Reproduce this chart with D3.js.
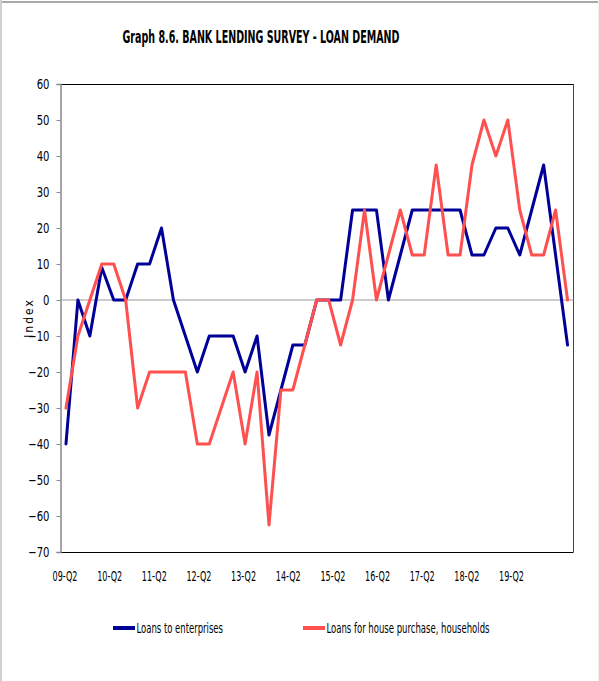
<!DOCTYPE html>
<html>
<head>
<meta charset="utf-8">
<script src="https://cdn.jsdelivr.net/npm/d3@7"></script>
<style>
  html, body { margin: 0; padding: 0; background: #fff; }
  svg { display: block; }
  text { font-family: "Liberation Sans Narrow", "DejaVu Sans Condensed", "Arial Narrow", sans-serif; fill: #000; }
</style>
</head>
<body>
<svg id="chart" width="599" height="681"></svg>
<script>
// Quarterly survey rounds
const quarters = [
  "09-Q2","09-Q3","09-Q4",
  "10-Q1","10-Q2","10-Q3","10-Q4",
  "11-Q1","11-Q2","11-Q3","11-Q4",
  "12-Q1","12-Q2","12-Q3","12-Q4",
  "13-Q1","13-Q2","13-Q3","13-Q4",
  "14-Q1","14-Q2","14-Q3","14-Q4",
  "15-Q1","15-Q2","15-Q3","15-Q4",
  "16-Q1","16-Q2","16-Q3","16-Q4",
  "17-Q1","17-Q2","17-Q3","17-Q4",
  "18-Q1","18-Q2","18-Q3","18-Q4",
  "19-Q1","19-Q2","19-Q3","19-Q4"
];

// Net percentage index, loans to enterprises
const enterprises = [
  -40, 0, -10, 9, 0, 0, 10, 10, 20, 0,
  -10, -20, -10, -10, -10, -20, -10, -37.5, -25, -12.5,
  -12.5, 0, 0, 0, 25, 25, 25, 0, 12.5, 25,
  25, 25, 25, 25, 12.5, 12.5, 20, 20, 12.5, 25,
  37.5, 12.5, -12.5
];

// Net percentage index, loans for house purchase
const households = [
  -30, -10, 0, 10, 10, 0, -30, -20, -20, -20,
  -20, -40, -40, -30, -20, -40, -20, -62.5, -25, -25,
  -12.5, 0, 0, -12.5, 0, 25, 0, 12.5, 25, 12.5,
  12.5, 37.5, 12.5, 12.5, 37.5, 50, 40, 50, 25, 12.5,
  12.5, 25, 0
];

// Year labels shown along the horizontal axis
const yearLabels = ["09-Q2","10-Q2","11-Q2","12-Q2","13-Q2","14-Q2","15-Q2","16-Q2","17-Q2","18-Q2","19-Q2"];
const yTicks = [60, 50, 40, 30, 20, 10, 0, -10, -20, -30, -40, -50, -60, -70];

const seriesNames = ["Loans to enterprises", "Loans for house purchase, households"];
const seriesColors = ["#000099", "#ff5050"];

const svg = d3.select("#chart");
const W = 599, H = 681;
const plot = { left: 60, right: 573.5, top: 84, bottom: 552 };
const narrowFont = "\"Liberation Sans Narrow\", \"DejaVu Sans Condensed\", sans-serif";

// squeeze a text element horizontally to a condensed width
function condense(sel, factor) {
  sel.each(function () {
    const w = this.getComputedTextLength();
    d3.select(this).attr("textLength", w * factor).attr("lengthAdjust", "spacingAndGlyphs");
  });
}

// outer frame
svg.append("rect").attr("x", 0).attr("y", 0).attr("width", W).attr("height", H).attr("fill", "#fff");
svg.append("line").attr("x1", 0).attr("x2", W).attr("y1", 2).attr("y2", 2)
  .attr("stroke", "#aaaaaa").attr("stroke-width", 2);
svg.append("line").attr("x1", 1).attr("x2", 1).attr("y1", 0).attr("y2", H)
  .attr("stroke", "#d0d0d0").attr("stroke-width", 2);
svg.append("line").attr("x1", 598.5).attr("x2", 598.5).attr("y1", 0).attr("y2", H)
  .attr("stroke", "#f0f0f0").attr("stroke-width", 1);

// title
svg.append("text")
  .attr("x", 261).attr("y", 43)
  .attr("text-anchor", "middle")
  .attr("font-size", 18).attr("font-weight", "bold")
  .attr("textLength", 277).attr("lengthAdjust", "spacingAndGlyphs")
  .text("Graph 8.6. BANK LENDING SURVEY - LOAN DEMAND");

// scales
const x = d3.scaleBand().domain(quarters).range([plot.left, plot.right]).padding(0);
const xc = d => x(d) + x.bandwidth() / 2;
const y = d3.scaleLinear().domain([-70, 60]).range([plot.bottom, plot.top]);
const xLab = d3.scalePoint().domain(yearLabels).range([64.5, 511]);

// plot frame: top/right/bottom dark, left axis grey
svg.append("line").attr("x1", plot.left).attr("x2", plot.right).attr("y1", plot.top + 0.5).attr("y2", plot.top + 0.5)
  .attr("stroke", "#000").attr("stroke-width", 1);
svg.append("line").attr("x1", plot.right).attr("x2", plot.right).attr("y1", plot.top).attr("y2", plot.bottom)
  .attr("stroke", "#444").attr("stroke-width", 1);
svg.append("line").attr("x1", plot.left).attr("x2", plot.right).attr("y1", plot.bottom + 0.5).attr("y2", plot.bottom + 0.5)
  .attr("stroke", "#000").attr("stroke-width", 1);

// y axis
const yAxis = d3.axisLeft(y).tickValues(yTicks).tickSize(4).tickPadding(7).tickFormat(d3.format("d"));
const gy = svg.append("g").attr("transform", `translate(${plot.left + 0.5},0)`).call(yAxis);
gy.select(".domain").attr("stroke", "#888").attr("stroke-width", 1.5);
gy.selectAll(".tick line").attr("stroke", "#888");
gy.selectAll(".tick text").attr("font-size", 14).attr("fill", "#000").attr("font-family", narrowFont)
  .call(condense, 0.8);

// zero line
svg.append("line")
  .attr("x1", plot.left).attr("x2", plot.right)
  .attr("y1", y(0)).attr("y2", y(0))
  .attr("stroke", "#999").attr("stroke-width", 1.2);

// x axis labels
const xAxis = d3.axisBottom(xLab).tickSize(0).tickPadding(19);
const gx = svg.append("g").attr("transform", `translate(0,${plot.bottom})`).call(xAxis);
gx.select(".domain").remove();
gx.selectAll(".tick text").attr("font-size", 14).attr("fill", "#000").attr("font-family", narrowFont)
  .attr("textLength", 25).attr("lengthAdjust", "spacingAndGlyphs");

// y axis title
svg.append("text")
  .attr("transform", "translate(33,318) rotate(-90)")
  .attr("text-anchor", "middle")
  .attr("font-size", 12)
  .attr("letter-spacing", 2)
  .attr("font-family", "\"DejaVu Sans\", sans-serif")
  .text("Index");

// series lines
const line = d3.line().x((d, i) => xc(quarters[i])).y(d => y(d));
[enterprises, households].forEach((vals, k) => {
  svg.append("path")
    .datum(vals)
    .attr("fill", "none")
    .attr("stroke", seriesColors[k])
    .attr("stroke-width", 3)
    .attr("stroke-linejoin", "round")
    .attr("stroke-linecap", "round")
    .attr("d", line);
});

// legend
const legendX = [113, 303];
const legendTextW = [86.5, 163];
seriesNames.forEach((name, k) => {
  const g = svg.append("g").attr("transform", `translate(${legendX[k]},628)`);
  g.append("line").attr("x1", 0).attr("x2", 22).attr("y1", 0).attr("y2", 0)
    .attr("stroke", seriesColors[k]).attr("stroke-width", 4);
  g.append("text").attr("x", 23.5).attr("y", 5).attr("font-size", 14)
    .attr("textLength", legendTextW[k]).attr("lengthAdjust", "spacingAndGlyphs")
    .text(name);
});
</script>
</body>
</html>
